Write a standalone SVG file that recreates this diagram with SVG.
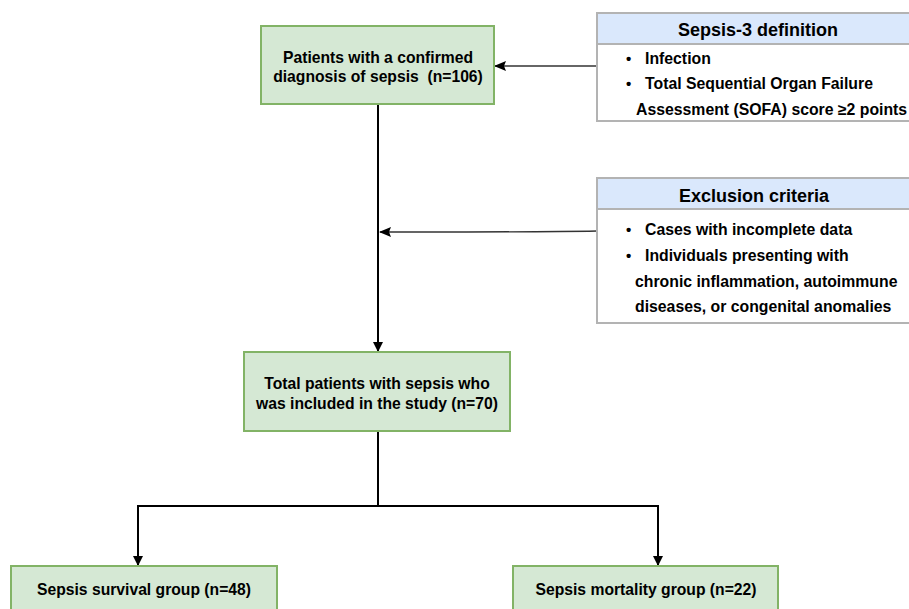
<svg xmlns="http://www.w3.org/2000/svg" width="909" height="609" viewBox="0 0 909 609">
<style>
.node{fill:#d5e8d4;stroke:#82b366;stroke-width:2}
.hdr{fill:#dae8fc;stroke:#b3b3b3;stroke-width:2}
.body{fill:#ffffff;stroke:#b3b3b3;stroke-width:2}
.t{font-family:"Liberation Sans",Arial,sans-serif;font-weight:bold;font-size:15.7px;fill:#000}
.b{font-family:"Liberation Sans",Arial,sans-serif;font-weight:bold;font-size:15.8px;fill:#000}
.d{font-family:"Liberation Sans",Arial,sans-serif;font-weight:bold;font-size:15px;fill:#000}
.h{font-family:"Liberation Sans",Arial,sans-serif;font-weight:bold;font-size:18px;fill:#000}
.main{fill:none;stroke:#000;stroke-width:2}
.thin{fill:none;stroke:#333;stroke-width:1.3}
</style>
<defs>
<marker id="ah" markerWidth="10" markerHeight="10" refX="9" refY="5" orient="auto" markerUnits="userSpaceOnUse" viewBox="0 0 10 10">
<path d="M0,0 L10,5 L0,10 Z" fill="#000"/>
</marker>
<marker id="ahs" markerWidth="12" markerHeight="10" refX="11" refY="5" orient="auto" markerUnits="userSpaceOnUse" viewBox="0 0 12 10">
<path d="M0,0 L12,5 L0,10 L2,5 Z" fill="#000"/>
</marker>
</defs>
<rect width="909" height="609" fill="#ffffff"/>
<g id="connectors">
<path class="main" d="M378,104 V351" marker-end="url(#ah)"/>
<path class="main" d="M378,431 V506 M138,506 H658"/>
<path class="main" d="M138,505 V565" marker-end="url(#ah)"/>
<path class="main" d="M658,505 V565" marker-end="url(#ah)"/>
<path class="thin" d="M597,66 H495" marker-end="url(#ahs)"/>
<path class="thin" d="M597,231 C540,232 500,232 380,232" marker-end="url(#ahs)"/>
</g>
<g id="n1">
<rect class="node" x="261" y="26" width="233" height="78"/>
<text class="t" x="378" y="63" text-anchor="middle">Patients with a confirmed</text>
<text class="t" x="378" y="82" text-anchor="middle" xml:space="preserve">diagnosis of sepsis  (n=106)</text>
</g>
<g id="sepsis3">
<rect class="body" x="597" y="44" width="330" height="77"/>
<rect class="hdr" x="597" y="13" width="330" height="31"/>
<text class="h" x="758" y="36" text-anchor="middle">Sepsis-3 definition</text>
<text class="d" x="626" y="64">•</text>
<text class="b" x="645" y="64">Infection</text>
<text class="d" x="626" y="89">•</text>
<text class="b" x="645" y="89">Total Sequential Organ Failure</text>
<text class="b" x="636" y="115">Assessment (SOFA) score ≥2 points</text>
</g>
<g id="exclusion">
<rect class="body" x="597" y="209" width="330" height="114"/>
<rect class="hdr" x="597" y="178" width="330" height="31"/>
<text class="h" x="754" y="202" text-anchor="middle">Exclusion criteria</text>
<text class="d" x="626" y="235">•</text>
<text class="b" x="645" y="235">Cases with incomplete data</text>
<text class="d" x="626" y="261">•</text>
<text class="b" x="645" y="261">Individuals presenting with</text>
<text class="b" x="635" y="287">chronic inflammation, autoimmune</text>
<text class="b" x="635" y="312">diseases, or congenital anomalies</text>
</g>
<g id="n2">
<rect class="node" x="244" y="352" width="266" height="79"/>
<text class="t" x="377" y="389" text-anchor="middle">Total patients with sepsis who</text>
<text class="t" x="377" y="409" text-anchor="middle">was included in the study (n=70)</text>
</g>
<g id="n3">
<rect class="node" x="11" y="566" width="266" height="60"/>
<text class="t" x="144" y="595" text-anchor="middle">Sepsis survival group (n=48)</text>
</g>
<g id="n4">
<rect class="node" x="513" y="566" width="265" height="60"/>
<text class="t" x="646" y="595" text-anchor="middle">Sepsis mortality group (n=22)</text>
</g>
</svg>
